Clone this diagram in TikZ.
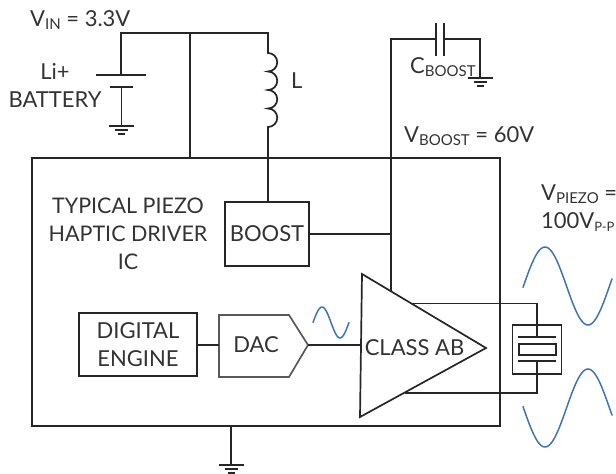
\documentclass[tikz,border=0pt]{standalone}
\usepackage{fontspec}
\setmainfont{Lato}
\definecolor{wavecol}{HTML}{3F73B5}
\newcommand{\subtxt}[2][15]{\raisebox{-3pt}{\fontsize{#1}{#1}\selectfont #2}}
\newcommand{\gnd}[2]{%
  \draw[wire] (#1-12.5,#2) -- (#1+12.5,#2);
  \draw[wire] (#1-6.5,#2+4) -- (#1+6.5,#2+4);
  \draw[wire] (#1-3.5,#2+8) -- (#1+3.5,#2+8);
}
\tikzset{
  wire/.style={line width=1.7pt,draw=black!85},
  lbl/.style={font=\fontsize{22}{28}\selectfont,text=black!80,inner sep=0pt,align=center},
  blockbox/.style={wire,fill=white,lbl,inner sep=0pt},
  sine/.style={line width=1.5pt,draw=wavecol,line cap=round}
}
\begin{document}
\begin{tikzpicture}[x=1pt,y=-1pt]
  \useasboundingbox (0,0) rectangle (616,474);
  % chip outline
  \node[wire,draw,minimum width=468pt,minimum height=268pt,inner sep=0pt,anchor=north west] (chip) at (31,157) {};
  % blocks
  \node[blockbox,draw,minimum width=84pt,minimum height=64pt] (boost) at (267,234) {BOOST};
  \node[blockbox,draw,minimum width=118pt,minimum height=63pt] (engine) at (138,344.5) {DIGITAL\\ENGINE};
  \node[lbl,font=\fontsize{21.5}{28}\selectfont] (title) at (128,233.5) {TYPICAL PIEZO\\HAPTIC DRIVER\\IC};
  % dac
  \coordinate (dacin) at (219,345);
  \coordinate (dacout) at (308,345);
  \draw[wire,draw=black!65,fill=white] (219,315) -- (289,315) -- (dacout) -- (289,377) -- (219,377) -- cycle;
  \node[lbl] (dac) at (256,345) {DAC};
  \draw[wire] (engine.east |- dacin) -- (dacin);
  % amplifier
  \coordinate (ampa) at (362,274);
  \coordinate (ampb) at (360,417);
  \coordinate (amptip) at (486,348);
  \coordinate (amptop) at (391,291);
  \coordinate (ampin) at (361,345);
  \coordinate (ampouta) at (412,303.5);
  \coordinate (ampoutb) at (405,393);
  \draw[wire,fill=white] (ampa) -- (amptip) -- (ampb) -- cycle;
  \node[lbl] (amp) at (414.5,348) {CLASS AB};
  \draw[wire] (dacout) -- (ampin);
  % battery and inductor
  \coordinate (vina) at (121,33);
  \coordinate (vinb) at (190,33);
  \coordinate (vinc) at (268,33);
  \coordinate (inda) at (268,53);
  \coordinate (indb) at (268,127);
  \draw[wire] (121,75) -- (vina) -- (vinc) -- (inda)
    arc[start angle=90,end angle=-90,radius=9.25pt]
    arc[start angle=90,end angle=-90,radius=9.25pt]
    arc[start angle=90,end angle=-90,radius=9.25pt]
    arc[start angle=90,end angle=-90,radius=9.25pt]
    -- (boost.north -| indb);
  \draw[wire] (vinb) -- (chip.north -| vinb);
  \draw[wire] (96,75) -- (146,75);
  \draw[wire] (110,87) -- (133,87);
  \draw[wire] (121.5,87) -- (121.5,126);
  \gnd{121.5}{126}
  % boost output
  \coordinate (vbst) at (391,39);
  \coordinate (capa) at (436,39);
  \coordinate (capb) at (444,39);
  \coordinate (capc) at (480,39);
  \draw[wire] (amptop) -- (vbst) -- (capa);
  \draw[wire] (boost.east) -- (boost.east -| amptop);
  \draw[wire] (436,23) -- (436,56);
  \draw[wire] (444,23) -- (444,56);
  \draw[wire] (capb) -- (capc) -- (480,78);
  \gnd{480.5}{78}
  % chip ground
  \draw[wire] (chip.south -| 231,0) -- (231,465);
  \gnd{231}{465}
  % piezo
  \node[wire,draw,minimum width=49pt,minimum height=49pt,inner sep=0pt] (piezo) at (537,349.5) {};
  \node[wire,draw,minimum width=37pt,minimum height=11pt,inner sep=0pt] (crystal) at (537.5,349.5) {};
  \coordinate (plta) at (537,337);
  \coordinate (pltb) at (537,361);
  \draw[wire] (518,337) -- (556,337);
  \draw[wire] (518,361) -- (556,361);
  \draw[wire] (ampouta) -- (537,303.5) -- (plta);
  \draw[wire] (ampoutb) -- (537,393) -- (pltb);
  % waves
  \draw[sine] plot[domain=-9:27,samples=40,smooth] ({322+\x},{322.5-15.5*cos(180*\x/18)});
  \draw[sine] plot[domain=-22:67,samples=60,smooth] ({545+\x},{286-39*cos(180*\x/43)});
  \draw[sine] plot[domain=-22:67,samples=60,smooth] ({545+\x},{408+39*cos(180*\x/43)});
  % labels
  \node[lbl,anchor=base west] (vin) at (30,26) {V\subtxt{IN} = 3.3V};
  \node[lbl,anchor=base] (batta) at (55,79) {Li+};
  \node[lbl,anchor=base] (battb) at (55,107) {BATTERY};
  \node[lbl,anchor=base west] (indl) at (291,88) {L};
  \node[lbl,anchor=base west] (cbst) at (410,73) {C\subtxt{BOOST}};
  \node[lbl,anchor=base west] (vbstl) at (404,142) {V\subtxt{BOOST} = 60V};
  \node[lbl,anchor=base west] (vpza) at (541,200) {V\subtxt{PIEZO} =};
  \node[lbl,anchor=base west] (vpzb) at (541,228) {100V\subtxt[13]{P-P}};
\end{tikzpicture}
\end{document}
